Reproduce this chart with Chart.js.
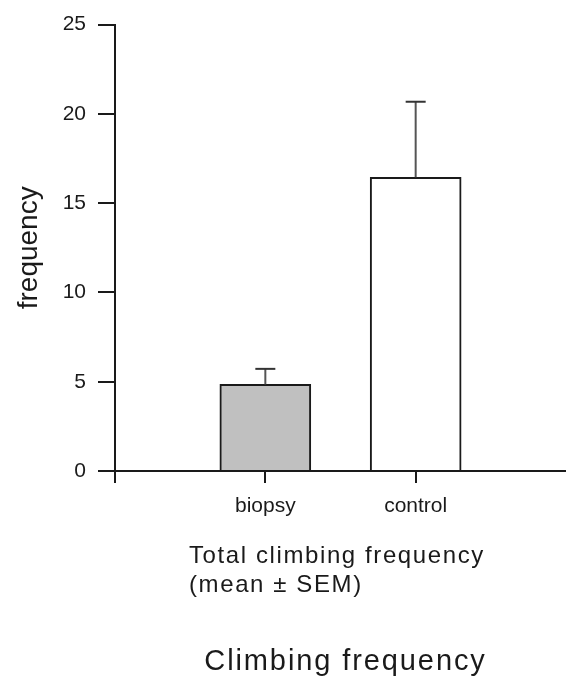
<!DOCTYPE html>
<html>
<head>
<meta charset="utf-8">
<script src="https://cdn.jsdelivr.net/npm/chart.js@4.4.1/dist/chart.umd.min.js"></script>
<style>
  html, body { margin: 0; padding: 0; background: #fff; }
</style>
</head>
<body>
<canvas id="climbChart" width="566" height="681"></canvas>
<script>
// values
const groups = ['biopsy', 'control'];
const groupPositions = [1, 2];
const meanValues = [4.85, 16.45];
const semValues = [0.87, 4.23];
const barColors = ['#c0c0c0', '#ffffff'];
const yTicks = [0, 5, 10, 15, 20, 25];
const captionLines = ['Total climbing frequency', '(mean \u00b1 SEM)'];
const chartTitle = 'Climbing frequency';

const FONT = '"Liberation Sans", Arial, sans-serif';
const INK = '#1a1a1a';

// upper half of the SEM bar, drawn on top of each bar
const errorBarPlugin = {
    id: 'errorBars',
    afterDatasetsDraw(chart) {
        const ctx = chart.ctx;
        const yScale = chart.scales.y;
        const meta = chart.getDatasetMeta(0);
        ctx.save();
        ctx.lineWidth = 2;
        meta.data.forEach((bar, i) => {
            const top = yScale.getPixelForValue(meanValues[i] + semValues[i]);
            ctx.strokeStyle = '#555';
            ctx.beginPath();
            ctx.moveTo(bar.x, bar.y);
            ctx.lineTo(bar.x, top);
            ctx.stroke();
            ctx.strokeStyle = '#333';
            ctx.beginPath();
            ctx.moveTo(bar.x - 10, top);
            ctx.lineTo(bar.x + 10, top);
            ctx.stroke();
        });
        ctx.restore();
    }
};

// caption block under the axis
const captionPlugin = {
    id: 'captions',
    afterDraw(chart) {
        const ctx = chart.ctx;
        const area = chart.chartArea;
        ctx.save();
        ctx.fillStyle = INK;
        ctx.textBaseline = 'alphabetic';
        ctx.textAlign = 'left';
        ctx.font = '24px ' + FONT;
        ctx.letterSpacing = '1.6px';
        captionLines.forEach((line, i) => {
            ctx.fillText(line, area.left + 74, area.bottom + 92 + i * 29);
        });
        ctx.font = '29px ' + FONT;
        ctx.letterSpacing = '1.9px';
        ctx.textAlign = 'center';
        ctx.fillText(chartTitle, (area.left + area.right) / 2 + 5, area.bottom + 199);
        ctx.restore();
    }
};

const ctx = document.getElementById('climbChart').getContext('2d');
new Chart(ctx, {
    type: 'bar',
    data: {
        datasets: [{
            data: groupPositions.map((x, i) => ({ x: x, y: meanValues[i] })),
            backgroundColor: barColors,
            borderColor: INK,
            borderWidth: 2,
            barThickness: 91
        }]
    },
    options: {
        responsive: false,
        animation: false,
        layout: { padding: { top: 20, left: 0, right: 0, bottom: 0 } },
        plugins: {
            legend: { display: false },
            tooltip: { enabled: false }
        },
        scales: {
            x: {
                type: 'linear',
                min: 0,
                max: 3,
                offset: false,
                afterBuildTicks: (scale) => {
                    scale.ticks = [0].concat(groupPositions).map(v => ({ value: v }));
                },
                afterFit: (scale) => { scale.height = 210; },
                ticks: {
                    autoSkip: false,
                    maxRotation: 0,
                    padding: 11,
                    color: INK,
                    font: { family: FONT, size: 21 },
                    callback: (v) => groups[groupPositions.indexOf(v)] || ''
                },
                grid: {
                    offset: false,
                    drawOnChartArea: false,
                    tickLength: 12,
                    lineWidth: 2,
                    color: INK
                },
                border: { color: INK, width: 2 }
            },
            y: {
                min: 0,
                max: 25,
                afterBuildTicks: (scale) => {
                    scale.ticks = yTicks.map(v => ({ value: v }));
                },
                afterFit: (scale) => { scale.width = 115; },
                ticks: {
                    padding: 12,
                    color: INK,
                    font: { family: FONT, size: 21 }
                },
                grid: {
                    drawOnChartArea: false,
                    tickLength: 17,
                    lineWidth: 2,
                    color: INK
                },
                border: { color: INK, width: 2 },
                title: {
                    display: true,
                    text: 'frequency',
                    color: INK,
                    font: { family: FONT, size: 28 },
                    padding: { top: 12, bottom: 0 }
                }
            }
        }
    },
    plugins: [errorBarPlugin, captionPlugin]
});
</script>
</body>
</html>
